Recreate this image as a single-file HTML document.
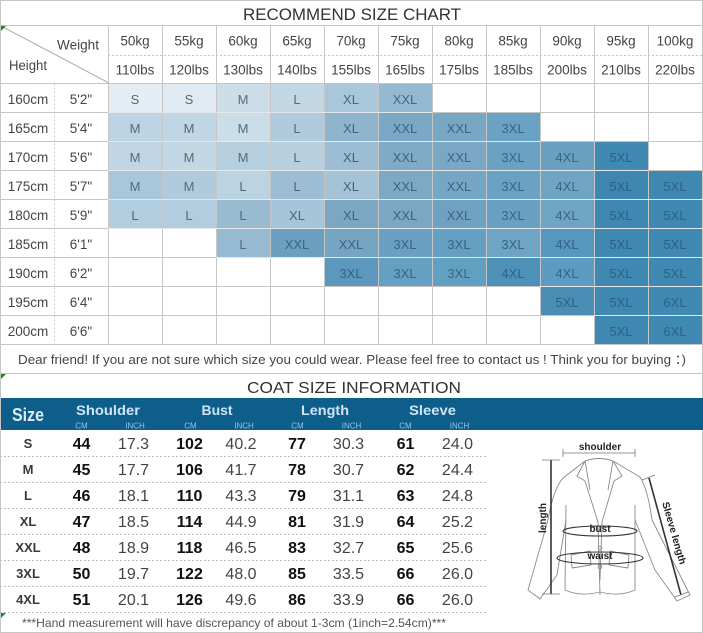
<!DOCTYPE html>
<html><head><meta charset="utf-8"><style>
html,body{margin:0;padding:0;background:#fff;}
svg{display:block;font-family:"Liberation Sans",Arial,sans-serif;}
</style></head><body>
<svg width="703" height="633" viewBox="0 0 703 633" xmlns="http://www.w3.org/2000/svg">
<rect width="703" height="633" fill="#fff"/>
<!-- colored cells -->
<g stroke="rgba(255,255,255,0.55)" stroke-width="1">
<rect x="108.5" y="83.5" width="54" height="29" fill="#e3edf3"/>
<rect x="162.5" y="83.5" width="54" height="29" fill="#dfeaf2"/>
<rect x="216.5" y="83.5" width="54" height="29" fill="#ccdde8"/>
<rect x="270.5" y="83.5" width="54" height="29" fill="#c3d8e5"/>
<rect x="324.5" y="83.5" width="54" height="29" fill="#a9c7db"/>
<rect x="378.5" y="83.5" width="54" height="29" fill="#94b9d1"/>

<rect x="108.5" y="112.5" width="54" height="29" fill="#bcd4e3"/>
<rect x="162.5" y="112.5" width="54" height="29" fill="#c0d6e4"/>
<rect x="216.5" y="112.5" width="54" height="29" fill="#cbdde8"/>
<rect x="270.5" y="112.5" width="54" height="29" fill="#b0cbdd"/>
<rect x="324.5" y="112.5" width="54" height="29" fill="#8fb5cd"/>
<rect x="378.5" y="112.5" width="54" height="29" fill="#7ba8c4"/>
<rect x="432.5" y="112.5" width="54" height="29" fill="#78a7c4"/>
<rect x="486.5" y="112.5" width="54" height="29" fill="#6aa2c3"/>

<rect x="108.5" y="141.5" width="54" height="29" fill="#c0d6e4"/>
<rect x="162.5" y="141.5" width="54" height="29" fill="#c3d8e5"/>
<rect x="216.5" y="141.5" width="54" height="29" fill="#b5cfdf"/>
<rect x="270.5" y="141.5" width="54" height="29" fill="#b7cfdf"/>
<rect x="324.5" y="141.5" width="54" height="29" fill="#9cbdd3"/>
<rect x="378.5" y="141.5" width="54" height="29" fill="#80abc6"/>
<rect x="432.5" y="141.5" width="54" height="29" fill="#7aa8c4"/>
<rect x="486.5" y="141.5" width="54" height="29" fill="#6aa2c3"/>
<rect x="540.5" y="141.5" width="54" height="29" fill="#6aa1c2"/>
<rect x="594.5" y="141.5" width="54" height="29" fill="#3f89b2"/>

<rect x="108.5" y="170.5" width="54" height="29" fill="#a9c7da"/>
<rect x="162.5" y="170.5" width="54" height="29" fill="#b0cbdd"/>
<rect x="216.5" y="170.5" width="54" height="29" fill="#bcd3e2"/>
<rect x="270.5" y="170.5" width="54" height="29" fill="#9cbdd3"/>
<rect x="324.5" y="170.5" width="54" height="29" fill="#a4c3d7"/>
<rect x="378.5" y="170.5" width="54" height="29" fill="#7da9c5"/>
<rect x="432.5" y="170.5" width="54" height="29" fill="#75a6c3"/>
<rect x="486.5" y="170.5" width="54" height="29" fill="#6aa2c3"/>
<rect x="540.5" y="170.5" width="54" height="29" fill="#6fa4c4"/>
<rect x="594.5" y="170.5" width="54" height="29" fill="#3d87b1"/>
<rect x="648.5" y="170.5" width="54" height="29" fill="#3f88b2"/>

<rect x="108.5" y="199.5" width="54" height="29" fill="#b2cde0"/>
<rect x="162.5" y="199.5" width="54" height="29" fill="#b2cde0"/>
<rect x="216.5" y="199.5" width="54" height="29" fill="#98bbd2"/>
<rect x="270.5" y="199.5" width="54" height="29" fill="#a7c5d9"/>
<rect x="324.5" y="199.5" width="54" height="29" fill="#7ba7c3"/>
<rect x="378.5" y="199.5" width="54" height="29" fill="#7ba7c3"/>
<rect x="432.5" y="199.5" width="54" height="29" fill="#6fa2c2"/>
<rect x="486.5" y="199.5" width="54" height="29" fill="#6aa1c2"/>
<rect x="540.5" y="199.5" width="54" height="29" fill="#6ea4c4"/>
<rect x="594.5" y="199.5" width="54" height="29" fill="#3e88b1"/>
<rect x="648.5" y="199.5" width="54" height="29" fill="#4089b2"/>

<rect x="216.5" y="228.5" width="54" height="29" fill="#96bad2"/>
<rect x="270.5" y="228.5" width="54" height="29" fill="#6b9fbf"/>
<rect x="324.5" y="228.5" width="54" height="29" fill="#76a5c2"/>
<rect x="378.5" y="228.5" width="54" height="29" fill="#6aa1c2"/>
<rect x="432.5" y="228.5" width="54" height="29" fill="#65a0c2"/>
<rect x="486.5" y="228.5" width="54" height="29" fill="#6ea4c4"/>
<rect x="540.5" y="228.5" width="54" height="29" fill="#5697bd"/>
<rect x="594.5" y="228.5" width="54" height="29" fill="#3f88b1"/>
<rect x="648.5" y="228.5" width="54" height="29" fill="#4089b2"/>

<rect x="324.5" y="257.5" width="54" height="29" fill="#5c98bd"/>
<rect x="378.5" y="257.5" width="54" height="29" fill="#64a0c2"/>
<rect x="432.5" y="257.5" width="54" height="29" fill="#62a0c2"/>
<rect x="486.5" y="257.5" width="54" height="29" fill="#4e91b8"/>
<rect x="540.5" y="257.5" width="54" height="29" fill="#5d9cc0"/>
<rect x="594.5" y="257.5" width="54" height="29" fill="#3f88b1"/>
<rect x="648.5" y="257.5" width="54" height="29" fill="#4089b2"/>

<rect x="540.5" y="286.5" width="54" height="29" fill="#4a8db5"/>
<rect x="594.5" y="286.5" width="54" height="29" fill="#3f88b1"/>
<rect x="648.5" y="286.5" width="54" height="29" fill="#4089b2"/>

<rect x="594.5" y="315.5" width="54" height="29" fill="#3f88b1"/>
<rect x="648.5" y="315.5" width="54" height="29" fill="#4089b2"/>
</g>

<!-- grid lines top -->
<g stroke="#c6c6c6" stroke-width="1" fill="none">
<line x1="0" y1="0.5" x2="703" y2="0.5"/>
<line x1="0" y1="25.5" x2="703" y2="25.5"/>
<line x1="0" y1="83.5" x2="703" y2="83.5"/>
<line x1="0" y1="112.5" x2="703" y2="112.5"/>
<line x1="0" y1="141.5" x2="703" y2="141.5"/>
<line x1="0" y1="170.5" x2="703" y2="170.5"/>
<line x1="0" y1="199.5" x2="703" y2="199.5"/>
<line x1="0" y1="228.5" x2="703" y2="228.5"/>
<line x1="0" y1="257.5" x2="703" y2="257.5"/>
<line x1="0" y1="286.5" x2="703" y2="286.5"/>
<line x1="0" y1="315.5" x2="703" y2="315.5"/>
<line x1="0" y1="344.5" x2="703" y2="344.5"/>
<line x1="0" y1="373.5" x2="703" y2="373.5"/>
<line x1="0" y1="632.5" x2="703" y2="632.5"/>
<line x1="0.5" y1="0" x2="0.5" y2="633"/>
<line x1="702.5" y1="0" x2="702.5" y2="633"/>
<line x1="108.5" y1="25.5" x2="108.5" y2="344.5"/>
<line x1="162.5" y1="25.5" x2="162.5" y2="344.5"/>
<line x1="216.5" y1="25.5" x2="216.5" y2="344.5"/>
<line x1="270.5" y1="25.5" x2="270.5" y2="344.5"/>
<line x1="324.5" y1="25.5" x2="324.5" y2="344.5"/>
<line x1="378.5" y1="25.5" x2="378.5" y2="344.5"/>
<line x1="432.5" y1="25.5" x2="432.5" y2="344.5"/>
<line x1="486.5" y1="25.5" x2="486.5" y2="344.5"/>
<line x1="540.5" y1="25.5" x2="540.5" y2="344.5"/>
<line x1="594.5" y1="25.5" x2="594.5" y2="344.5"/>
<line x1="648.5" y1="25.5" x2="648.5" y2="344.5"/>
<line x1="108" y1="55.5" x2="703" y2="55.5" stroke-dasharray="2,2"/>
<line x1="54.5" y1="83.5" x2="54.5" y2="344.5" stroke-dasharray="2,2"/>
<line x1="2" y1="26.5" x2="108" y2="82.5" stroke="#b0b0b0"/>
</g>
<!-- overlay light separators in colored zone -->
<g stroke="rgba(235,243,248,0.75)" stroke-width="1">
<line x1="108" y1="112.5" x2="432" y2="112.5"/>
<line x1="108" y1="141.5" x2="540" y2="141.5"/>
<line x1="108" y1="170.5" x2="648" y2="170.5"/>
<line x1="108" y1="199.5" x2="703" y2="199.5"/>
<line x1="108" y1="228.5" x2="703" y2="228.5"/>
<line x1="216" y1="257.5" x2="703" y2="257.5"/>
<line x1="540" y1="286.5" x2="703" y2="286.5"/>
<line x1="594" y1="315.5" x2="703" y2="315.5"/>
</g>
<!-- green markers -->
<g fill="#2e7d32">
<polygon points="1,26 6,26 1,31"/>
<polygon points="1,374 6,374 1,379"/>
<polygon points="1,613 6,613 1,618"/>
</g>

<!-- title -->
<text x="352" y="20" font-size="16.5" fill="#333" text-anchor="middle" textLength="218" lengthAdjust="spacingAndGlyphs">RECOMMEND SIZE CHART</text>

<!-- header labels -->
<g font-size="13.5" fill="#444">
<text x="57" y="49.5" textLength="42" lengthAdjust="spacingAndGlyphs">Weight</text>
<text x="9" y="70" textLength="38" lengthAdjust="spacingAndGlyphs">Height</text>
</g>
<g font-size="13.5" fill="#444" text-anchor="middle">
<text x="135" y="45.5">50kg</text><text x="189" y="45.5">55kg</text><text x="243" y="45.5">60kg</text><text x="297" y="45.5">65kg</text><text x="351" y="45.5">70kg</text><text x="405" y="45.5">75kg</text><text x="459" y="45.5">80kg</text><text x="513" y="45.5">85kg</text><text x="567" y="45.5">90kg</text><text x="621" y="45.5">95kg</text><text x="675" y="45.5">100kg</text>
<text x="135" y="74.5">110lbs</text><text x="189" y="74.5">120lbs</text><text x="243" y="74.5">130lbs</text><text x="297" y="74.5">140lbs</text><text x="351" y="74.5">155lbs</text><text x="405" y="74.5">165lbs</text><text x="459" y="74.5">175lbs</text><text x="513" y="74.5">185lbs</text><text x="567" y="74.5">200lbs</text><text x="621" y="74.5">210lbs</text><text x="675" y="74.5">220lbs</text>
<text x="28" y="104">160cm</text><text x="81" y="104">5'2"</text>
<text x="28" y="133">165cm</text><text x="81" y="133">5'4"</text>
<text x="28" y="162">170cm</text><text x="81" y="162">5'6"</text>
<text x="28" y="191">175cm</text><text x="81" y="191">5'7"</text>
<text x="28" y="220">180cm</text><text x="81" y="220">5'9"</text>
<text x="28" y="249">185cm</text><text x="81" y="249">6'1"</text>
<text x="28" y="278">190cm</text><text x="81" y="278">6'2"</text>
<text x="28" y="307">195cm</text><text x="81" y="307">6'4"</text>
<text x="28" y="336">200cm</text><text x="81" y="336">6'6"</text>
</g>

<!-- size cells text -->
<g font-size="13" text-anchor="middle" fill="#56697a">
<text x="135" y="104">S</text><text x="189" y="104">S</text><text x="243" y="104">M</text><text x="297" y="104">L</text><text x="351" y="104" fill="#476680">XL</text><text x="405" y="104" fill="#476680">XXL</text>
<text x="135" y="133">M</text><text x="189" y="133">M</text><text x="243" y="133">M</text><text x="297" y="133">L</text><text x="351" y="133" fill="#3e6480">XL</text><text x="405" y="133" fill="#3e6480">XXL</text><text x="459" y="133" fill="#3e6480">XXL</text><text x="513" y="133" fill="#3a6484">3XL</text>
<text x="135" y="162">M</text><text x="189" y="162">M</text><text x="243" y="162">M</text><text x="297" y="162">L</text><text x="351" y="162" fill="#3e6480">XL</text><text x="405" y="162" fill="#3e6480">XXL</text><text x="459" y="162" fill="#3e6480">XXL</text><text x="513" y="162" fill="#3a6484">3XL</text><text x="567" y="162" fill="#3a6484">4XL</text><text x="621" y="162" fill="#2b6189">5XL</text>
<text x="135" y="191">M</text><text x="189" y="191">M</text><text x="243" y="191">L</text><text x="297" y="191">L</text><text x="351" y="191" fill="#3e6480">XL</text><text x="405" y="191" fill="#3e6480">XXL</text><text x="459" y="191" fill="#3e6480">XXL</text><text x="513" y="191" fill="#3a6484">3XL</text><text x="567" y="191" fill="#3a6484">4XL</text><text x="621" y="191" fill="#2b6189">5XL</text><text x="675" y="191" fill="#2b6189">5XL</text>
<text x="135" y="220">L</text><text x="189" y="220">L</text><text x="243" y="220">L</text><text x="297" y="220" fill="#476680">XL</text><text x="351" y="220" fill="#3e6480">XL</text><text x="405" y="220" fill="#3e6480">XXL</text><text x="459" y="220" fill="#3e6480">XXL</text><text x="513" y="220" fill="#3a6484">3XL</text><text x="567" y="220" fill="#3a6484">4XL</text><text x="621" y="220" fill="#2b6189">5XL</text><text x="675" y="220" fill="#2b6189">5XL</text>
<text x="243" y="249">L</text><text x="297" y="249" fill="#3a6484">XXL</text><text x="351" y="249" fill="#3e6480">XXL</text><text x="405" y="249" fill="#3a6484">3XL</text><text x="459" y="249" fill="#3a6484">3XL</text><text x="513" y="249" fill="#3a6484">3XL</text><text x="567" y="249" fill="#33638a">4XL</text><text x="621" y="249" fill="#2b6189">5XL</text><text x="675" y="249" fill="#2b6189">5XL</text>
<text x="351" y="278" fill="#33638a">3XL</text><text x="405" y="278" fill="#3a6484">3XL</text><text x="459" y="278" fill="#3a6484">3XL</text><text x="513" y="278" fill="#2f628a">4XL</text><text x="567" y="278" fill="#33638a">4XL</text><text x="621" y="278" fill="#2b6189">5XL</text><text x="675" y="278" fill="#2b6189">5XL</text>
<text x="567" y="307" fill="#2b6189">5XL</text><text x="621" y="307" fill="#2b6189">5XL</text><text x="675" y="307" fill="#2b6189">6XL</text>
<text x="621" y="336" fill="#2b6189">5XL</text><text x="675" y="336" fill="#2b6189">6XL</text>
</g>

<text x="18" y="364" font-size="13" fill="#444" textLength="668" lengthAdjust="spacingAndGlyphs">Dear friend! If you are not sure which size you could wear. Please feel free to contact us ! Think you for buying ：)</text>

<!-- coat section -->
<text x="354" y="393" font-size="16" fill="#333" text-anchor="middle" textLength="214" lengthAdjust="spacingAndGlyphs">COAT SIZE INFORMATION</text>
<rect x="1" y="398" width="702" height="32" fill="#0e5e8b"/>
<text x="12" y="421" font-size="18" font-weight="bold" fill="#dfeaf4" textLength="32" lengthAdjust="spacingAndGlyphs">Size</text>
<g font-size="14" font-weight="bold" fill="#cfe5f4" text-anchor="middle">
<text x="108" y="415" textLength="64" lengthAdjust="spacingAndGlyphs">Shoulder</text>
<text x="217" y="415" textLength="31" lengthAdjust="spacingAndGlyphs">Bust</text>
<text x="325" y="415" textLength="48" lengthAdjust="spacingAndGlyphs">Length</text>
<text x="432.5" y="415" textLength="47" lengthAdjust="spacingAndGlyphs">Sleeve</text>
</g>
<g font-size="8" fill="#8fc3e6" text-anchor="middle">
<text x="81.5" y="428.5">CM</text><text x="135" y="428.5">INCH</text>
<text x="190.5" y="428.5">CM</text><text x="244" y="428.5">INCH</text>
<text x="297.5" y="428.5">CM</text><text x="351.5" y="428.5">INCH</text>
<text x="405.5" y="428.5">CM</text><text x="459.5" y="428.5">INCH</text>
</g>

<g stroke="#bdbdbd" stroke-width="1" stroke-dasharray="2,2">
<line x1="0" y1="456.5" x2="487" y2="456.5"/>
<line x1="0" y1="482.5" x2="487" y2="482.5"/>
<line x1="0" y1="508.5" x2="487" y2="508.5"/>
<line x1="0" y1="534.5" x2="487" y2="534.5"/>
<line x1="0" y1="560.5" x2="487" y2="560.5"/>
<line x1="0" y1="586.5" x2="487" y2="586.5"/>
<line x1="0" y1="612.5" x2="487" y2="612.5"/>
</g>

<g font-size="13" font-weight="bold" fill="#3a3a3a" text-anchor="middle">
<text x="28" y="448">S</text><text x="28" y="474">M</text><text x="28" y="500">L</text><text x="28" y="526">XL</text><text x="28" y="552">XXL</text><text x="28" y="578">3XL</text><text x="28" y="604">4XL</text>
</g>
<g font-size="16" font-weight="bold" fill="#111" text-anchor="middle">
<text x="81.5" y="449">44</text><text x="189.5" y="449">102</text><text x="297" y="449">77</text><text x="405.5" y="449">61</text>
<text x="81.5" y="475">45</text><text x="189.5" y="475">106</text><text x="297" y="475">78</text><text x="405.5" y="475">62</text>
<text x="81.5" y="501">46</text><text x="189.5" y="501">110</text><text x="297" y="501">79</text><text x="405.5" y="501">63</text>
<text x="81.5" y="527">47</text><text x="189.5" y="527">114</text><text x="297" y="527">81</text><text x="405.5" y="527">64</text>
<text x="81.5" y="553">48</text><text x="189.5" y="553">118</text><text x="297" y="553">83</text><text x="405.5" y="553">65</text>
<text x="81.5" y="579">50</text><text x="189.5" y="579">122</text><text x="297" y="579">85</text><text x="405.5" y="579">66</text>
<text x="81.5" y="605">51</text><text x="189.5" y="605">126</text><text x="297" y="605">86</text><text x="405.5" y="605">66</text>
</g>
<g font-size="16" fill="#444" text-anchor="middle">
<text x="133.5" y="449">17.3</text><text x="241" y="449">40.2</text><text x="348.5" y="449">30.3</text><text x="457.5" y="449">24.0</text>
<text x="133.5" y="475">17.7</text><text x="241" y="475">41.7</text><text x="348.5" y="475">30.7</text><text x="457.5" y="475">24.4</text>
<text x="133.5" y="501">18.1</text><text x="241" y="501">43.3</text><text x="348.5" y="501">31.1</text><text x="457.5" y="501">24.8</text>
<text x="133.5" y="527">18.5</text><text x="241" y="527">44.9</text><text x="348.5" y="527">31.9</text><text x="457.5" y="527">25.2</text>
<text x="133.5" y="553">18.9</text><text x="241" y="553">46.5</text><text x="348.5" y="553">32.7</text><text x="457.5" y="553">25.6</text>
<text x="133.5" y="579">19.7</text><text x="241" y="579">48.0</text><text x="348.5" y="579">33.5</text><text x="457.5" y="579">26.0</text>
<text x="133.5" y="605">20.1</text><text x="241" y="605">49.6</text><text x="348.5" y="605">33.9</text><text x="457.5" y="605">26.0</text>
</g>
<text x="22" y="627" font-size="12" fill="#555" textLength="424" lengthAdjust="spacingAndGlyphs">***Hand measurement will have discrepancy of about 1-3cm (1inch=2.54cm)***</text>

<!-- jacket illustration -->
<g fill="none" stroke="#8a8a8a" stroke-width="0.9" stroke-linejoin="round">
<path d="M585,461 Q599,456 613,461"/>
<path d="M585,461 L563,478 Q553,490 548,520 L528,590 L540,599 L557,575 L566,520"/>
<path d="M613,461 L640,477 Q648,490 652,520 L690,595 L677,601 L655,570 L635,520"/>
<path d="M566,505 L565,590 Q580,597 600,592 Q620,597 635,590 L635,505"/>
<path d="M585,461 L577,476 L585,481 L598,522"/>
<path d="M613,461 L622,476 L614,481 L602,522"/>
<path d="M585,461 L590,490 M613,461 L608,490"/>
<path d="M598,522 L600,595 M602,522 L600,580"/>
<path d="M571,555 L590,551 L591,565 L572,568 Z"/>
<path d="M610,551 L629,555 L628,568 L609,565 Z"/>
<circle cx="600" cy="548" r="1.8"/>
<circle cx="600" cy="567" r="1.8"/>
</g>
<g fill="none" stroke="#333" stroke-width="1.1">
<ellipse cx="600" cy="531" rx="37" ry="5"/>
<ellipse cx="600" cy="558" rx="43" ry="6"/>
</g>
<g stroke="#333" stroke-width="1.6" fill="none">
<line x1="551" y1="460" x2="551" y2="594"/>
<line x1="649" y1="478" x2="681" y2="595"/>
</g>
<g stroke="#777" stroke-width="0.8" fill="none">
<line x1="542" y1="460" x2="560" y2="460"/>
<line x1="542" y1="594" x2="560" y2="594"/>
<line x1="563" y1="453" x2="635" y2="453"/>
<line x1="563" y1="449" x2="563" y2="457"/>
<line x1="635" y1="449" x2="635" y2="457"/>
<line x1="642" y1="480" x2="655" y2="475"/>
<line x1="675" y1="597" x2="688" y2="592"/>
</g>
<g font-size="10" font-weight="bold" fill="#222" text-anchor="middle">
<text x="600" y="450" fill="#fff" stroke="#fff" stroke-width="3">shoulder</text>
<text x="600" y="450">shoulder</text>
<text x="600" y="532">bust</text>
<text x="600" y="559">waist</text>
<text transform="translate(546,518) rotate(-90)">length</text>
<text transform="translate(671,534) rotate(74)">Sleeve length</text>
</g>
</svg>
</body></html>
